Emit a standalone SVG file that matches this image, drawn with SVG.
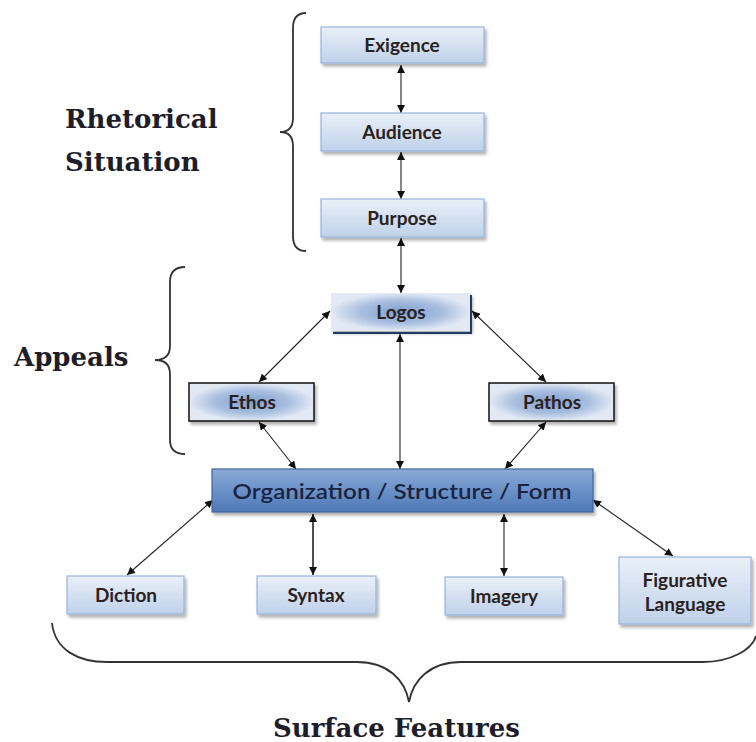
<svg xmlns="http://www.w3.org/2000/svg" width="756" height="742" viewBox="0 0 756 742">
  <defs>
    <linearGradient id="gLight" x1="0" y1="0" x2="0" y2="1">
      <stop offset="0" stop-color="#eaf0f8"/>
      <stop offset="1" stop-color="#bfd1ea"/>
    </linearGradient>
    <radialGradient id="gMid" cx="50%" cy="50%" r="50%">
      <stop offset="0" stop-color="#7f9dcd"/>
      <stop offset="0.6" stop-color="#a9bfe0"/>
      <stop offset="1" stop-color="#e2e9f4"/>
    </radialGradient>
    <linearGradient id="gOrg" x1="0" y1="0" x2="0" y2="1">
      <stop offset="0" stop-color="#8aaad6"/>
      <stop offset="0.5" stop-color="#6b91c8"/>
      <stop offset="1" stop-color="#4e78b5"/>
    </linearGradient>
    <filter id="sh" x="-10%" y="-20%" width="130%" height="160%">
      <feDropShadow dx="2" dy="3" stdDeviation="1.5" flood-color="#000" flood-opacity="0.3"/>
    </filter>
    <marker id="ah" viewBox="0 0 10 10" refX="10" refY="5" markerWidth="8" markerHeight="8" markerUnits="userSpaceOnUse" orient="auto-start-reverse">
      <path d="M0,0 L10,5 L0,10 Z" fill="#111"/>
    </marker>
    <style>
      .light { fill: url(#gLight); stroke: #98b3da; stroke-width: 1.2; filter: url(#sh); }
      .mid { fill: url(#gMid); stroke: #111; stroke-width: 1.5; filter: url(#sh); }
      .logo { fill: url(#gMid); stroke: none; filter: url(#sh); }
      .org { fill: url(#gOrg); stroke: #3d649c; stroke-width: 1.2; filter: url(#sh); }
      .lbl { font-family: Lato, "Liberation Sans", sans-serif; font-weight: bold; font-size: 19px; fill: #2a211d; text-anchor: middle; }
      .orgt { font-family: Lato, "Liberation Sans", sans-serif; font-weight: 600; font-size: 21px; fill: #1a2440; text-anchor: middle; }
      .big { font-family: "DejaVu Serif", "Liberation Serif", serif; font-weight: bold; font-size: 26px; fill: #1d1d2b; }
      .con { stroke: #222; stroke-width: 1.1; fill: none; marker-start: url(#ah); marker-end: url(#ah); }
      .brace { stroke: #333; stroke-width: 1.8; fill: none; }
    </style>
  </defs>

  <g id="braces">
    <path class="brace" d="M306,13 C297,13 293,18 293,28 L293,118 C293,127 289,132 280,132 C289,132 293,137 293,146 L293,236 C293,246 297,251 306,251"/>
    <path class="brace" d="M185,267 C175,267 170,272 170,282 L170,346 C170,355 165,360 155,360 C165,360 170,365 170,374 L170,440 C170,449 175,454 185,454"/>
    <path class="brace" d="M52,623 C55,650 78,662 107,662 L357,662 C388,662 405,680 409,702 C413,680 430,662 461,662 L703,662 C730,662 752,650 756,636"/>
  </g>

  <g id="labels">
    <text class="big" x="65" y="128">Rhetorical</text>
    <text class="big" x="65" y="171">Situation</text>
    <text class="big" x="14" y="366">Appeals</text>
    <text class="big" x="273" y="737" textLength="247" lengthAdjust="spacingAndGlyphs">Surface Features</text>
  </g>

  <g id="connectors">
    <line class="con" x1="401" y1="65" x2="401" y2="113"/>
    <line class="con" x1="401" y1="152" x2="401" y2="199"/>
    <line class="con" x1="401" y1="238" x2="401" y2="293"/>
    <line class="con" x1="330" y1="311" x2="259" y2="382"/>
    <line class="con" x1="472" y1="311" x2="546" y2="382"/>
    <line class="con" x1="400" y1="334" x2="400" y2="469"/>
    <line class="con" x1="259" y1="422" x2="296" y2="469"/>
    <line class="con" x1="546" y1="422" x2="505" y2="469"/>
    <line class="con" x1="213" y1="500" x2="127" y2="575"/>
    <line class="con" x1="313" y1="514" x2="313" y2="575" style="stroke-width:1.6"/>
    <line class="con" x1="504" y1="514" x2="504" y2="576"/>
    <line class="con" x1="593" y1="500" x2="673" y2="556"/>
  </g>

  <g id="exigence">
    <rect class="light" x="321" y="27" width="163" height="36"/>
    <text class="lbl" x="402" y="52">Exigence</text>
  </g>
  <g id="audience">
    <rect class="light" x="321" y="113" width="163" height="38"/>
    <text class="lbl" x="402" y="139">Audience</text>
  </g>
  <g id="purpose">
    <rect class="light" x="321" y="199" width="163" height="38"/>
    <text class="lbl" x="402" y="225">Purpose</text>
  </g>
  <g id="logos">
    <rect class="logo" x="331" y="293" width="140" height="38"/>
    <path d="M471,295 L471,333 L333,333" stroke="#1f3b66" stroke-width="2" fill="none"/>
    <text class="lbl" x="401" y="319">Logos</text>
  </g>
  <g id="ethos">
    <rect class="mid" x="189" y="383" width="125" height="38"/>
    <text class="lbl" x="252" y="409">Ethos</text>
  </g>
  <g id="pathos">
    <rect class="mid" x="489" y="383" width="125" height="38"/>
    <text class="lbl" x="552" y="409">Pathos</text>
  </g>
  <g id="organization">
    <rect class="org" x="212" y="469" width="381" height="43"/>
    <text class="orgt" x="402" y="499" textLength="339" lengthAdjust="spacingAndGlyphs">Organization / Structure / Form</text>
  </g>
  <g id="diction">
    <rect class="light" x="67" y="576" width="117" height="38"/>
    <text class="lbl" x="126" y="602">Diction</text>
  </g>
  <g id="syntax">
    <rect class="light" x="257" y="576" width="119" height="38"/>
    <text class="lbl" x="316" y="602">Syntax</text>
  </g>
  <g id="imagery">
    <rect class="light" x="445" y="577" width="118" height="38"/>
    <text class="lbl" x="504" y="603">Imagery</text>
  </g>
  <g id="figurative">
    <rect class="light" x="619" y="557" width="132" height="67"/>
    <text class="lbl" x="685" y="587">Figurative</text>
    <text class="lbl" x="685" y="611">Language</text>
  </g>
</svg>
